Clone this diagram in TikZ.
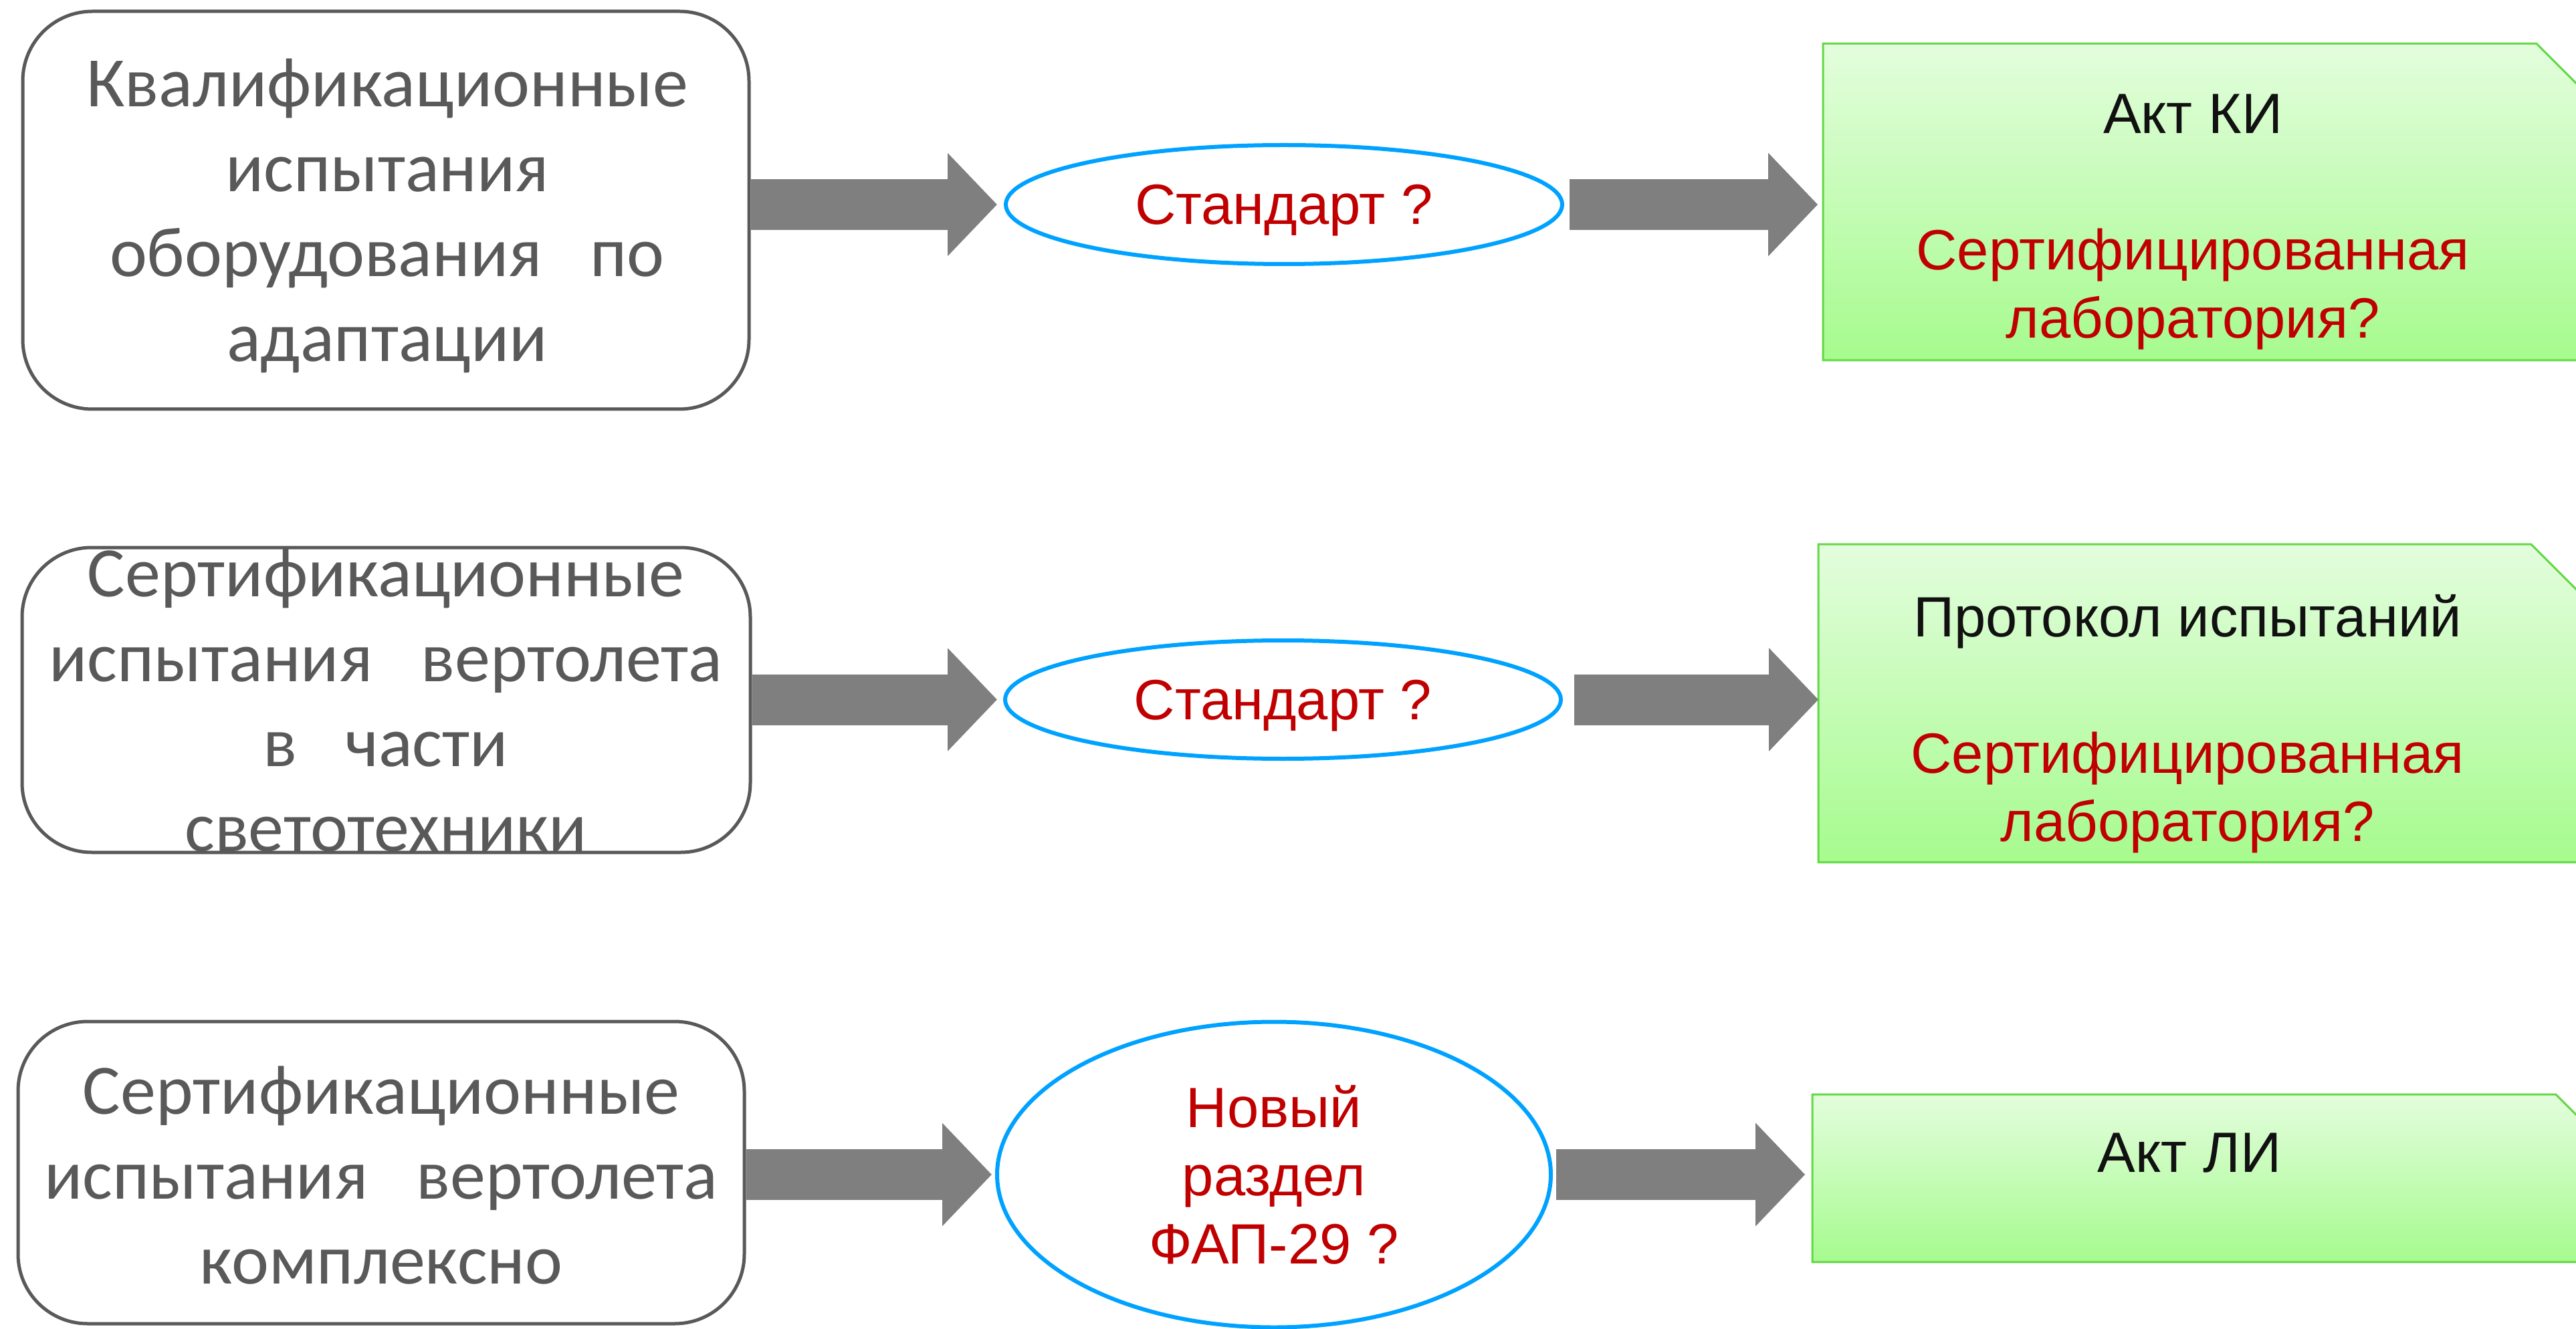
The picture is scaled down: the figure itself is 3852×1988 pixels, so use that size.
\documentclass[tikz,border=0pt]{standalone}
\usepackage{fontspec}
\usetikzlibrary{shapes.geometric,arrows.meta,calc}
\newfontfamily\carlitof{Carlito}
\newfontfamily\arialf{Liberation Sans}
\definecolor{boxgray}{HTML}{595959}
\definecolor{txtgray}{HTML}{595959}
\definecolor{arrgray}{HTML}{7F7F7F}
\definecolor{ellblue}{HTML}{00A2FF}
\definecolor{darkred}{HTML}{C00000}
\definecolor{gtop}{HTML}{E3FDDD}
\definecolor{gbot}{HTML}{A6FB8E}
\definecolor{gline}{HTML}{62D845}
\definecolor{nearblack}{HTML}{111111}
\tikzset{
  leftbox/.style={draw=boxgray, line width=1.25pt, rounded corners=26pt, inner sep=0pt, minimum width=271.5pt},
  ltext/.style={text=txtgray, font=\carlitof\fontsize{26.5}{31.75}\selectfont, align=center, inner sep=0pt, anchor=base},
  stdell/.style={ellipse, draw=ellblue, line width=1.5pt, inner sep=0pt, text=darkred, font=\arialf\fontsize{21.25}{25.5}\selectfont, align=center},
  bigarrow/.style={draw=arrgray, line width=19pt, -{Triangle[length=18.5pt,width=37.5pt]}},
  gbox/.style={rectangle, inner sep=0pt},
  gshade/.style={top color=gtop, bottom color=gbot, draw=gline, line width=0.75pt},
  gtext/.style={font=\arialf\fontsize{21.25}{25.5}\selectfont, align=center, inner sep=0pt, anchor=base, text=nearblack}
}
\begin{document}
\begin{tikzpicture}[x=0.25pt,y=-0.25pt]
\useasboundingbox (0,0) rectangle (3852,1988);
\fill[white] (0,0) rectangle (3852,1988);
\clip (0,0) rectangle (3852,1988);

% left boxes
\node[leftbox, minimum height=148.75pt] (b1) at (577,314.5) {};
\node[leftbox, minimum height=114pt, minimum width=272.25pt] (b2) at (577.5,1047) {};
\node[leftbox, minimum height=113pt] (b3) at (570,1754) {};
\node[ltext] (t1) at (579,541) {Квалификационные\\испытания\\оборудования~~~по\\адаптации};
\node[ltext] (t2) at (577,1273) {Сертификационные\\испытания~~~вертолета\\в~~~части\\светотехники};
\node[ltext] (t3) at (570,1920) {Сертификационные\\испытания~~~вертолета\\комплексно};

% ellipses
\node[stdell, minimum width=208pt, minimum height=44.5pt, text depth=0pt] (e1) at (1920,306) {Стандарт ?};
\node[stdell, minimum width=207.75pt, minimum height=44.25pt, text depth=0pt] (e2) at (1918.5,1046.5) {Стандарт ?};
\node[stdell, minimum width=207pt, minimum height=114.25pt] (e3) at (1905,1757) {Новый\\раздел\\ФАП-29 ?};

% green boxes
\node[gbox, minimum width=296.25pt, minimum height=118pt] (g1) at (3319.5,302) {};
\node[gbox, minimum width=296pt, minimum height=118.5pt] (g2) at (3312,1052) {};
\node[gbox, minimum width=307.5pt, minimum height=62.25pt] (g3) at (3326,1762.5) {};
\foreach \g in {g1,g2,g3}{
  \shade[gshade] (\g.south west) -- (\g.north west) -- ([xshift=-30pt]\g.north east)
    -- ([yshift=-30pt]\g.north east) -- (\g.south east) -- cycle;
}
\node[gtext] (gt1) at (3279,506) {Акт КИ\\[25.5pt]\textcolor{darkred}{Сертифицированная}\\\textcolor{darkred}{лаборатория?}};
\node[gtext] (gt2) at (3271,1258) {Протокол испытаний\\[25.5pt]\textcolor{darkred}{Сертифицированная}\\\textcolor{darkred}{лаборатория?}};
\node[gtext] (gt3) at (3274,1753) {Акт ЛИ};

% arrows
\draw[bigarrow, shorten >=2.5pt] (e1.west -| b1.east) -- (e1.west);
\draw[bigarrow, shorten <=2pt, shorten >=2pt] (e1.east) -- (e1.east -| g1.west);
\draw[bigarrow, shorten >=2.25pt] (e2.west -| b2.east) -- (e2.west);
\draw[bigarrow, shorten <=4.25pt] (e2.east) -- (e2.east -| g2.west);
\draw[bigarrow, shorten >=1.25pt] (e3.west -| b3.east) -- (e3.west);
\draw[bigarrow, shorten <=1.25pt, shorten >=2.75pt] (e3.east) -- (e3.east -| g3.west);
\end{tikzpicture}
\end{document}
